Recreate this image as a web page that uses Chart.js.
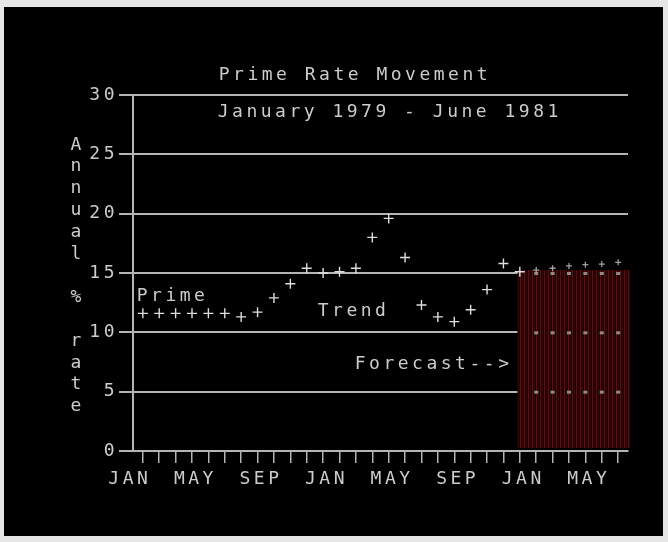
<!DOCTYPE html>
<html lang="en">
  <head>
    <meta charset="UTF-8">
    <title>Prime Rate Movement</title>
    <script src="https://cdn.jsdelivr.net/npm/chart.js"></script>
    <style>
      html, body { margin: 0; padding: 0; background: #e6e6e6; }
      canvas { display: block; }
    </style>
  </head>
  <body>
    <canvas id="primeChart" width="668" height="542"></canvas>
    <script>
      // month index 0 = Jan 1979, 29 = Jun 1981
      const primeMonths = [0, 1, 2, 3, 4, 5, 6, 7, 8, 9, 10, 11, 12, 13, 14, 15, 16, 17, 18, 19, 20, 21, 22, 23];
      const primeRates = [11.6, 11.6, 11.6, 11.6, 11.6, 11.6, 11.3, 11.7, 12.9, 14.1, 15.4, 15.0,
                          15.1, 15.4, 18.0, 19.6, 16.3, 12.3, 11.3, 10.9, 11.9, 13.6, 15.8, 15.1];
      const forecastMonths = [24, 25, 26, 27, 28, 29];
      const forecastRates = [15.25, 15.4, 15.6, 15.7, 15.75, 15.9];
      const forecastShadeFrom = 22.85;
      const forecastShadeTop = 15.25;
      const monthTickLabels = ['JAN', 'MAY', 'SEP', 'JAN', 'MAY', 'SEP', 'JAN', 'MAY'];
      const chartTitle = 'Prime Rate Movement';
      const chartSubtitle = 'January 1979 - June 1981';
      const yTitle = 'Annual % rate';

      const textColor = '#cccccc';
      const lineColor = '#b4b4b4';
      const monoFont = 'DejaVu Sans Mono';
      const spacing = '3.5px';

      // labels placed in data coordinates
      const notes = [
        { text: chartTitle, x: 4.63, y: 31.68 },
        { text: chartSubtitle, x: 4.57, y: 28.57 },
        { text: 'Prime', x: -0.37, y: 13.06 },
        { text: 'Trend', x: 10.67, y: 11.8 },
        { text: 'Forecast-->', x: 12.93, y: 7.33 }
      ];

      function stripePattern(ctx) {
        const c = document.createElement('canvas');
        c.width = 4; c.height = 1;
        const p = c.getContext('2d');
        const cols = ['#501414', '#200404', '#2e0909', '#1c0303'];
        cols.forEach((col, i) => { p.fillStyle = col; p.fillRect(i, 0, 1, 1); });
        return ctx.createPattern(c, 'repeat');
      }

      const screenPlugin = {
        id: 'screen',
        beforeLayout(chart) {
          chart.ctx.letterSpacing = spacing;
        },
        beforeDraw(chart) {
          const ctx = chart.ctx;
          ctx.save();
          ctx.fillStyle = '#e6e6e6';
          ctx.fillRect(0, 0, chart.width, chart.height);
          ctx.fillStyle = '#000';
          ctx.fillRect(4, 7, 659, 529);
          ctx.restore();
          ctx.letterSpacing = spacing;
        },
        beforeDatasetsDraw(chart) {
          const ctx = chart.ctx;
          const xs = chart.scales.x, ys = chart.scales.y;
          const area = chart.chartArea;
          const left = xs.getPixelForValue(forecastShadeFrom);
          const top = ys.getPixelForValue(forecastShadeTop);
          ctx.save();
          ctx.fillStyle = stripePattern(ctx);
          ctx.fillRect(left, top, area.right - left + 2, area.bottom - top - 3);
          // gridlines show as dots inside the forecast block
          ctx.fillStyle = '#8c8c8c';
          [5, 10, 15].forEach(v => {
            forecastMonths.forEach(m => {
              ctx.fillRect(xs.getPixelForValue(m) - 2, ys.getPixelForValue(v) - 1, 4, 3);
            });
          });
          ctx.restore();
        },
        afterDraw(chart) {
          const ctx = chart.ctx;
          const xs = chart.scales.x, ys = chart.scales.y;
          ctx.save();
          ctx.letterSpacing = spacing;
          ctx.font = '18px "' + monoFont + '"';
          ctx.fillStyle = textColor;
          ctx.textBaseline = 'middle';
          ctx.textAlign = 'left';
          notes.forEach(n => {
            ctx.fillText(n.text, xs.getPixelForValue(n.x), ys.getPixelForValue(n.y));
          });
          ctx.letterSpacing = '0px';
          ctx.textAlign = 'center';
          yTitle.split('').forEach((ch, i) => {
            ctx.fillText(ch, 76, 145 + i * 21.8);
          });
          ctx.restore();
        }
      };

      new Chart(document.getElementById('primeChart'), {
        type: 'scatter',
        data: {
          datasets: [
            {
              label: 'Prime',
              data: primeMonths.map((m, i) => ({ x: m, y: primeRates[i] })),
              pointStyle: 'cross',
              pointRadius: 5,
              borderWidth: 1.4,
              borderColor: '#dedede',
              backgroundColor: '#dedede'
            },
            {
              label: 'Forecast',
              data: forecastMonths.map((m, i) => ({ x: m, y: forecastRates[i] })),
              pointStyle: 'cross',
              pointRadius: 3,
              borderWidth: 1.3,
              borderColor: '#a0a0a0',
              backgroundColor: '#a0a0a0'
            }
          ]
        },
        options: {
          responsive: false,
          animation: false,
          events: [],
          layout: { padding: { top: 95, right: 40, left: 0, bottom: 0 } },
          plugins: {
            legend: { display: false },
            tooltip: { enabled: false }
          },
          scales: {
            x: {
              type: 'linear',
              min: -0.6,
              max: 29.6,
              afterBuildTicks: s => { s.ticks = Array.from({ length: 30 }, (_, i) => ({ value: i })); },
              afterFit: s => { s.height = 91; },
              grid: { drawOnChartArea: false, tickLength: 12, color: lineColor, lineWidth: 1.5 },
              border: { color: lineColor, width: 2 },
              ticks: {
                autoSkip: false,
                maxRotation: 0,
                padding: 6,
                labelOffset: -13,
                color: textColor,
                font: { family: monoFont, size: 18 },
                callback: v => v % 4 === 0 ? monthTickLabels[v / 4] : ''
              }
            },
            y: {
              min: 0,
              max: 30,
              afterFit: s => { s.width = 133; },
              grid: { color: lineColor, lineWidth: 2, tickLength: 14 },
              border: { color: lineColor, width: 2 },
              ticks: {
                stepSize: 5,
                padding: 1,
                color: textColor,
                font: { family: monoFont, size: 18 }
              }
            }
          }
        },
        plugins: [screenPlugin]
      });
    </script>
  </body>
</html>
